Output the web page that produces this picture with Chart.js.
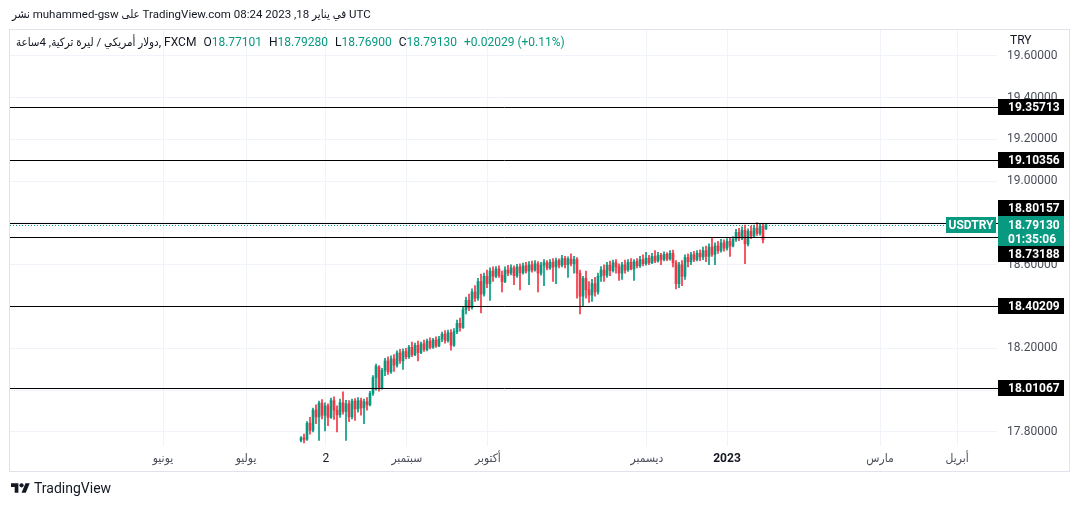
<!DOCTYPE html>
<html>
<head>
<meta charset="utf-8">
<script src="https://cdn.jsdelivr.net/npm/chart.js@4"></script>
<style>
  body { margin: 0; background: #fff; width: 1079px; height: 506px; overflow: hidden; position: relative;
         font-family: Roboto, "DejaVu Sans Condensed", "DejaVu Sans", sans-serif; color: #131722; }
  #chart { position: absolute; left: 0; top: 0; }
  #title { position: absolute; left: 12px; top: 7px; font-size: 11.5px; white-space: nowrap; }
  #legend { position: absolute; left: 16px; top: 35px; font-size: 12px; white-space: nowrap; }
  #legend .ar { font-size: 11.5px; }
  #legend .g { margin-left: 7px; }
  #legend .v { color: #089981; }
  #logo { position: absolute; left: 11px; top: 480px; display: flex; align-items: center; font-size: 14px; }
  #logo svg { margin-right: 4px; }
</style>
</head>
<body>
<canvas id="chart" width="1079" height="506"></canvas>
<div id="title">نشر muhammed-gsw على TradingView.com في يناير 18, 2023 08:24 UTC</div>
<div id="legend"></div>
<div id="logo">
  <svg width="19" height="15" viewBox="0 0 36 28"><path d="M14 22H7V11H0V4h14v18zM28 22h-8l7.5-18h8L28 22z" fill="#131722"/><circle cx="20" cy="8" r="4" fill="#131722"/></svg>
  <span>TradingView</span>
</div>
<script>
// --- data: USDTRY 4h candles ---
const opens = [17.760,17.772,17.765,17.842,17.808,17.905,17.872,17.938,17.880,17.925,
  17.870,17.950,17.905,17.882,17.940,17.898,17.935,17.872,17.948,17.910,
  17.950,17.915,17.945,17.930,17.985,18.060,18.110,18.010,18.095,18.140,
  18.088,18.150,18.120,18.178,18.140,18.185,18.160,18.205,18.170,18.215,
  18.180,18.222,18.195,18.235,18.205,18.240,18.212,18.245,18.268,18.238,
  18.275,18.215,18.280,18.320,18.300,18.385,18.430,18.395,18.470,18.440,
  18.520,18.460,18.545,18.510,18.570,18.545,18.580,18.550,18.520,18.575,
  18.560,18.585,18.548,18.590,18.562,18.595,18.570,18.600,18.575,18.605,
  18.560,18.598,18.610,18.585,18.612,18.590,18.620,18.598,18.630,18.600,
  18.628,18.605,18.625,18.560,18.450,18.535,18.480,18.455,18.510,18.470,
  18.545,18.575,18.550,18.598,18.572,18.610,18.590,18.560,18.600,18.575,
  18.612,18.580,18.615,18.595,18.625,18.605,18.632,18.610,18.640,18.618,
  18.645,18.625,18.650,18.628,18.655,18.610,18.510,18.600,18.545,18.635,
  18.615,18.648,18.625,18.655,18.638,18.668,18.640,18.685,18.650,18.690,
  18.668,18.705,18.680,18.712,18.690,18.722,18.755,18.728,18.765,18.700,
  18.760,18.738,18.775,18.750,18.785,18.77101];
const highs = [17.778,17.790,17.850,17.870,17.915,17.930,17.948,17.955,17.940,17.935,
  17.962,17.968,17.925,17.958,17.992,17.952,17.950,17.958,17.960,17.965,
  17.962,17.958,17.965,17.995,18.070,18.125,18.118,18.105,18.152,18.160,
  18.165,18.170,18.188,18.195,18.198,18.200,18.215,18.230,18.225,18.235,
  18.230,18.240,18.245,18.250,18.248,18.255,18.258,18.278,18.285,18.288,
  18.290,18.295,18.335,18.345,18.400,18.445,18.460,18.485,18.500,18.535,
  18.555,18.560,18.575,18.585,18.590,18.592,18.595,18.570,18.590,18.598,
  18.600,18.595,18.602,18.605,18.608,18.612,18.615,18.618,18.620,18.615,
  18.612,18.625,18.620,18.625,18.630,18.632,18.628,18.645,18.640,18.638,
  18.652,18.640,18.635,18.575,18.545,18.570,18.520,18.530,18.540,18.560,
  18.592,18.600,18.612,18.618,18.622,18.625,18.605,18.612,18.622,18.625,
  18.630,18.625,18.630,18.640,18.648,18.660,18.645,18.655,18.668,18.660,
  18.655,18.662,18.658,18.668,18.670,18.620,18.612,18.620,18.648,18.652,
  18.660,18.665,18.668,18.672,18.685,18.690,18.700,18.732,18.705,18.712,
  18.722,18.720,18.725,18.728,18.735,18.770,18.775,18.782,18.790,18.772,
  18.785,18.790,18.802,18.798,18.795,18.7928];
const lows = [17.752,17.748,17.760,17.790,17.800,17.840,17.760,17.862,17.805,17.830,
  17.865,17.860,17.800,17.870,17.885,17.760,17.850,17.862,17.855,17.895,
  17.880,17.840,17.905,17.925,17.975,18.000,17.995,18.005,18.070,18.075,
  18.080,18.090,18.110,18.128,18.100,18.150,18.152,18.160,18.165,18.140,
  18.175,18.185,18.188,18.198,18.200,18.205,18.208,18.232,18.225,18.230,
  18.192,18.210,18.270,18.282,18.295,18.365,18.380,18.388,18.425,18.430,
  18.370,18.450,18.490,18.430,18.520,18.538,18.540,18.470,18.515,18.548,
  18.552,18.505,18.540,18.480,18.555,18.560,18.505,18.565,18.570,18.470,
  18.550,18.500,18.575,18.578,18.520,18.510,18.585,18.590,18.585,18.540,
  18.595,18.560,18.440,18.365,18.400,18.440,18.420,18.425,18.450,18.460,
  18.520,18.520,18.540,18.548,18.565,18.560,18.525,18.530,18.560,18.568,
  18.575,18.525,18.585,18.588,18.595,18.598,18.600,18.605,18.610,18.612,
  18.600,18.618,18.620,18.622,18.590,18.485,18.490,18.500,18.530,18.590,
  18.600,18.615,18.618,18.620,18.625,18.615,18.600,18.640,18.600,18.655,
  18.660,18.665,18.670,18.640,18.685,18.712,18.715,18.720,18.605,18.690,
  18.725,18.730,18.740,18.742,18.705,18.769];
const closes = [17.772,17.765,17.842,17.808,17.905,17.872,17.938,17.880,17.925,17.870,
  17.950,17.905,17.882,17.940,17.898,17.935,17.872,17.948,17.910,17.950,
  17.915,17.945,17.930,17.985,18.060,18.115,18.010,18.095,18.140,18.088,
  18.150,18.120,18.178,18.140,18.185,18.160,18.205,18.170,18.215,18.180,
  18.222,18.195,18.235,18.205,18.240,18.212,18.245,18.268,18.238,18.275,
  18.215,18.280,18.320,18.300,18.385,18.430,18.395,18.470,18.440,18.520,
  18.460,18.545,18.510,18.570,18.545,18.580,18.550,18.520,18.575,18.560,
  18.585,18.548,18.590,18.562,18.595,18.570,18.600,18.575,18.605,18.560,
  18.598,18.610,18.585,18.612,18.590,18.620,18.598,18.630,18.600,18.628,
  18.605,18.625,18.560,18.450,18.535,18.480,18.455,18.510,18.470,18.545,
  18.575,18.550,18.598,18.572,18.610,18.590,18.560,18.600,18.575,18.612,
  18.580,18.615,18.595,18.625,18.605,18.632,18.610,18.640,18.618,18.645,
  18.625,18.650,18.628,18.655,18.610,18.510,18.600,18.545,18.635,18.615,
  18.648,18.625,18.655,18.638,18.668,18.640,18.685,18.650,18.690,18.668,
  18.705,18.680,18.712,18.690,18.722,18.755,18.728,18.765,18.700,18.760,
  18.738,18.775,18.750,18.785,18.720,18.7913];

// horizontal support / resistance levels drawn on the chart
const levels = [19.35713, 19.10356, 18.80157, 18.73188, 18.40209, 18.01067];

// x axis: month labels, placed in candle-index units
const monthLabels = ['يونيو', 'يوليو', '2', 'سبتمبر', 'أكتوبر', 'ديسمبر', '2023', 'مارس', 'أبريل'];
const monthPos = [-46, -18.3, 8.3, 35.3, 62.3, 115.3, 142, 193, 218.7];

// y axis: price ticks
const priceTicks = [17.8, 18.0, 18.2, 18.4, 18.6, 18.8, 19.0, 19.2, 19.4, 19.6];

const symbol = 'USDTRY';
const currency = 'TRY';
const countdown = '01:35:06';

const UP = '#089981';
const DOWN = '#F23645';
const TEXT = '#131722';
const AXIS_TEXT = '#4a4e59';
const GRID = '#f0f3fa';
const FONT = 'Roboto, "DejaVu Sans Condensed", "DejaVu Sans", sans-serif';

// --- legend row (OHLC of the last candle) ---
const n = closes.length - 1;
const chg = closes[n] - opens[n];
const pct = chg / opens[n] * 100;
document.getElementById('legend').innerHTML =
  '<span class="ar">دولار أمريكي / ليرة تركية, 4ساعة</span><span>, FXCM</span>' +
  '<span class="g">O<span class="v">' + opens[n].toFixed(5) + '</span></span>' +
  '<span class="g">H<span class="v">' + highs[n].toFixed(5) + '</span></span>' +
  '<span class="g">L<span class="v">' + lows[n].toFixed(5) + '</span></span>' +
  '<span class="g">C<span class="v">' + closes[n].toFixed(5) + '</span></span>' +
  '<span class="g v">+' + chg.toFixed(5) + ' (+' + pct.toFixed(2) + '%)</span>';

// --- candles as floating bars: thin wick + body ---
const wicks = opens.map((o, i) => ({ x: i, y: [lows[i], highs[i]] }));
const bodies = opens.map((o, i) => ({ x: i, y: [o, closes[i]] }));
const colors = opens.map((o, i) => closes[i] >= o ? UP : DOWN);

// --- overlay: level lines, price labels, frame ---
const overlay = {
  id: 'overlay',
  afterDatasetsDraw(chart) {
    const { ctx, chartArea: a, scales: { y } } = chart;
    ctx.save();
    ctx.lineWidth = 1;
    ctx.strokeStyle = '#000';
    levels.forEach(v => {
      const py = Math.round(y.getPixelForValue(v)) + 0.5;
      ctx.beginPath(); ctx.moveTo(a.left, py); ctx.lineTo(a.right + 2, py); ctx.stroke();
    });
    // last price dotted line
    const cy = Math.round(y.getPixelForValue(closes[n])) + 0.5;
    ctx.strokeStyle = UP;
    ctx.setLineDash([1, 2]);
    ctx.beginPath(); ctx.moveTo(a.left, cy); ctx.lineTo(a.right - 51, cy); ctx.stroke();
    ctx.restore();
  },
  afterDraw(chart) {
    const { ctx, chartArea: a, scales: { y } } = chart;
    const bx = a.right + 1, bw = 66;
    ctx.save();
    ctx.font = 'bold 12px ' + FONT;
    ctx.textBaseline = 'middle';

    // current price box
    const cy = Math.round(y.getPixelForValue(closes[n]));
    const cTop = cy - 9, cBot = cy + 21;
    ctx.fillStyle = UP;
    ctx.fillRect(bx, cTop, bw, cBot - cTop);
    ctx.fillStyle = '#fff';
    ctx.textAlign = 'left';
    ctx.fillText(closes[n].toFixed(5), bx + 10, cy + 1);
    ctx.fillText(countdown, bx + 10, cy + 15);

    // symbol tag
    ctx.fillStyle = UP;
    ctx.fillRect(a.right - 51, cy - 8, 50, 16);
    ctx.fillStyle = '#fff';
    ctx.textAlign = 'center';
    ctx.fillText(symbol, a.right - 26, cy + 1);

    // level labels, pushed away from the current price box
    ctx.textAlign = 'left';
    levels.forEach(v => {
      let ly = Math.round(y.getPixelForValue(v));
      if (ly + 8 > cTop && ly - 8 < cBot) ly = ly < cy ? cTop - 8 : cBot + 8;
      ctx.fillStyle = '#000';
      ctx.fillRect(bx, ly - 8, bw, 16);
      ctx.fillStyle = '#fff';
      ctx.fillText(v.toFixed(5), bx + 10, ly + 1);
    });

    // currency on top of the price scale
    ctx.font = '12px ' + FONT;
    ctx.fillStyle = TEXT;
    ctx.fillText(currency, 1010, 41);

    // outer frame
    ctx.strokeStyle = '#e0e3eb';
    ctx.lineWidth = 1;
    ctx.strokeRect(9.5, 29.5, 1060, 442);
    ctx.restore();
  }
};

const ctx = document.getElementById('chart').getContext('2d');
new Chart(ctx, {
  type: 'bar',
  data: {
    datasets: [
      { data: wicks, backgroundColor: colors, barThickness: 1, grouped: false, order: 2 },
      { data: bodies, backgroundColor: colors, barThickness: 2, grouped: false, order: 1, minBarLength: 1 }
    ]
  },
  options: {
    responsive: false,
    animation: false,
    devicePixelRatio: 1,
    layout: { padding: { left: 10, top: 30, right: 10, bottom: 35 } },
    plugins: { legend: { display: false }, tooltip: { enabled: false } },
    scales: {
      x: {
        type: 'linear',
        min: -97, max: 232,
        offset: false,
        afterBuildTicks: s => { s.ticks = monthPos.map(v => ({ value: v })); },
        afterFit: s => { s.height = 25; },
        grid: { color: GRID, drawTicks: false, offset: false },
        border: { display: false },
        ticks: {
          autoSkip: false, maxRotation: 0, padding: 6,
          callback: (v, i) => monthLabels[i],
          color: c => /^\d/.test(monthLabels[c.index] || '') ? TEXT : AXIS_TEXT,
          font: c => ({ size: 12, family: FONT,
                        weight: monthLabels[c.index] === '2023' ? 'bold' : 'normal' })
        }
      },
      y: {
        position: 'right',
        min: 17.733, max: 19.7234,
        afterBuildTicks: s => { s.ticks = priceTicks.map(v => ({ value: v })); },
        afterFit: s => { s.width = 72; },
        grid: { color: GRID, drawTicks: false },
        border: { display: false },
        ticks: {
          padding: 10,
          callback: v => v.toFixed(5),
          color: AXIS_TEXT,
          font: { size: 12, family: FONT }
        }
      }
    }
  },
  plugins: [overlay]
});
</script>
</body>
</html>
